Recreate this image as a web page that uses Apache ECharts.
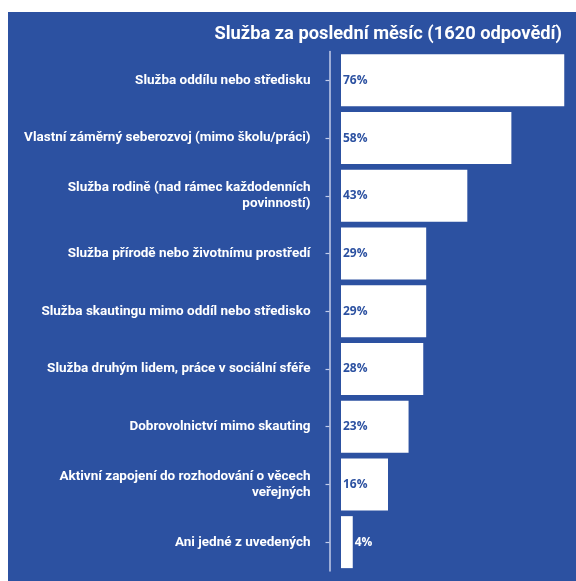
<!DOCTYPE html>
<html>
<head>
<meta charset="utf-8">
<script src="https://cdn.jsdelivr.net/npm/echarts@6/dist/echarts.min.js"></script>
<style>
	html, body { margin: 0; padding: 0; background: #ffffff; }
	#chart1 { position: absolute; left: 8px; top: 12px; width: 568px; height: 569px; }
</style>
</head>
<body>
<div id="chart1"></div>
<script>
var titleText = 'Služba za poslední měsíc (1620 odpovědí)';
var categories = [
	'Služba oddílu nebo středisku',
	'Vlastní záměrný seberozvoj (mimo školu/práci)',
	'Služba rodině (nad rámec každodenních\npovinností)',
	'Služba přírodě nebo životnímu prostředí',
	'Služba skautingu mimo oddíl nebo středisko',
	'Služba druhým lidem, práce v sociální sféře',
	'Dobrovolnictví mimo skauting',
	'Aktivní zapojení do rozhodování o věcech\nveřejných',
	'Ani jedné z uvedených'
];
var values = [76, 58, 43, 29, 29, 28, 23, 16, 4];

var BLUE = '#2c51a1';

// short bars get the label outside, in white
var barData = [];
for(var i = 0; i < values.length; i++) {
	var item = {value: values[i]};
	if(values[i] < 8) {
		item.label = {position: 'right', distance: 2, color: '#ffffff'};
	}
	barData.push(item);
}

var chartOption = {
	backgroundColor: BLUE,
	animation: false,
	title: {
		text: titleText, right: 9, top: 8,
		textStyle: {color: '#ffffff', fontFamily: 'Roboto', fontWeight: 'bold', fontSize: 18.3}
	},
	grid: {left: 333, width: 237, top: 39.5, bottom: 10, containLabel: false},
	xAxis: {
		type: 'value', min: 0, max: 80, show: false
	},
	yAxis: {
		type: 'category', inverse: true, data: categories, offset: 11.5,
		axisLine: {show: true, onZero: false, lineStyle: {color: '#c3cdea', width: 1.5}},
		axisTick: {show: true, alignWithLabel: true, length: 4, lineStyle: {color: '#c3cdea', width: 1.2}},
		axisLabel: {
			color: '#ffffff', fontFamily: 'Roboto', fontWeight: 'bold', fontSize: 13.5,
			margin: 19, lineHeight: 15.5, align: 'right'
		},
		splitLine: {show: false}
	},
	series: [
		{
			type: 'bar', data: barData, barWidth: 52,
			itemStyle: {color: '#ffffff'},
			label: {
				show: true, position: 'insideLeft', distance: 2, formatter: '{c}%',
				color: BLUE, fontFamily: 'Open Sans', fontWeight: 'bold', fontSize: 12
			}
		}
	]
};

var myChart1 = echarts.init(document.getElementById('chart1'));
myChart1.setOption(chartOption);
</script>
</body>
</html>
